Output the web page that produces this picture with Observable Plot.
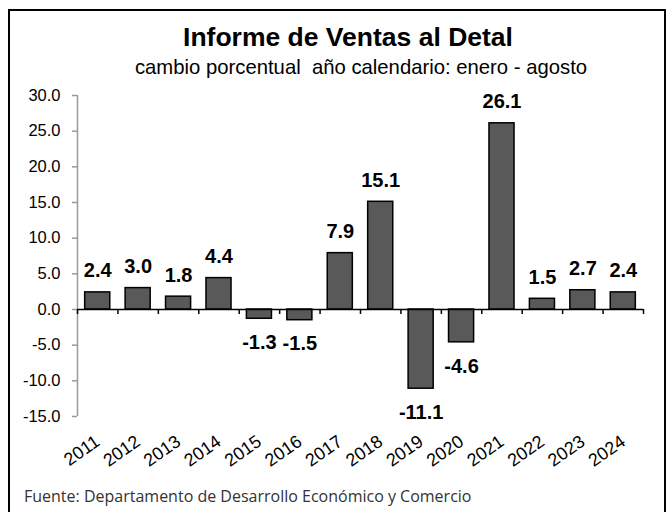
<!DOCTYPE html>
<html>
<head>
<meta charset="utf-8">
<script src="https://cdn.jsdelivr.net/npm/d3@7"></script>
<script src="https://cdn.jsdelivr.net/npm/@observablehq/plot@0.6"></script>
<style>
  html, body { margin: 0; padding: 0; background: #fff; }
  #wrap { position: relative; width: 671px; height: 512px; overflow: hidden; background: #fff; font-family: Arial, "Liberation Sans", sans-serif; }
  #frame { position: absolute; left: 8px; top: 9px; width: 658px; height: 540px; border: 2px solid #000; box-sizing: border-box; }
  #title { position: absolute; left: 0; width: 696px; top: 22px; text-align: center; font-size: 26.5px; font-weight: bold; color: #000; line-height: 30px; }
  #subtitle { position: absolute; left: 0; width: 722px; top: 56px; text-align: center; font-size: 20.3px; color: #000; line-height: 22px; white-space: pre; }
  #chart { position: absolute; left: 0; top: 80px; }
  #caption { position: absolute; left: 24px; top: 485px; font-family: "Open Sans", "Noto Sans", sans-serif; font-size: 16px; color: #333; white-space: nowrap; }
</style>
</head>
<body>
<div id="wrap">
  <div id="frame"></div>
  <div id="title">Informe de Ventas al Detal</div>
  <div id="subtitle">cambio porcentual  año calendario: enero - agosto</div>
  <div id="chart"></div>
  <div id="caption">Fuente: Departamento de Desarrollo Económico y Comercio</div>
</div>
<script>
const years = [2011, 2012, 2013, 2014, 2015, 2016, 2017, 2018, 2019, 2020, 2021, 2022, 2023, 2024];
const values = [2.4, 3.0, 1.8, 4.4, -1.3, -1.5, 7.9, 15.1, -11.1, -4.6, 26.1, 1.5, 2.7, 2.4];
const yTicks = [-15, -10, -5, 0, 5, 10, 15, 20, 25, 30];

const data = years.map((year, i) => ({year, value: values[i]}));
const xMin = years[0] - 0.5, xMax = years[years.length - 1] + 0.5;
const bounds = [xMin, ...years.map(y => y + 0.5)];
const fmt = v => v.toFixed(1);

const chart = Plot.plot({
  width: 671,
  height: 400,
  marginLeft: 77,
  marginRight: 28,
  marginTop: 15,
  marginBottom: 64,
  style: { fontFamily: "Arial, 'Liberation Sans', sans-serif", background: "transparent", color: "#000" },
  x: { type: "linear", domain: [xMin, xMax], label: null },
  y: { domain: [yTicks[0], yTicks[yTicks.length - 1]], label: null },
  marks: [
    Plot.ruleX([xMin], { y1: yTicks[0], y2: yTicks[yTicks.length - 1], stroke: "#9a9a9a", strokeWidth: 1.5 }),
    Plot.axisY({ ticks: yTicks, tickFormat: fmt, tickSize: 5, tickPadding: 12, stroke: "#9a9a9a", strokeWidth: 1.5, fontSize: 16.5, fill: "#000", label: null }),
    Plot.axisX({ ticks: years, tickFormat: d => String(d), tickSize: 0, tickPadding: 23, tickRotate: -35, fontSize: 18, fill: "#000", label: null }),
    Plot.rectY(data, { x1: d => d.year - 0.31, x2: d => d.year + 0.31, y1: 0, y2: "value", fill: "#595959", stroke: "#000", strokeWidth: 1.5 }),
    Plot.ruleY([0], { stroke: "#000", strokeWidth: 1.5 }),
    Plot.ruleX(bounds, { x: d => d, y1: 0, y2: 0, insetBottom: -5, stroke: "#000", strokeWidth: 1.5 }),
    Plot.text(data.filter(d => d.value >= 0), { x: "year", y: "value", text: d => fmt(d.value), dy: -15, lineAnchor: "bottom", fontWeight: "bold", fontSize: 20, fill: "#000" }),
    Plot.text(data.filter(d => d.value < 0), { x: "year", y: "value", text: d => fmt(d.value), dy: 16, lineAnchor: "top", fontWeight: "bold", fontSize: 20, fill: "#000" })
  ]
});
document.getElementById("chart").appendChild(chart);
</script>
</body>
</html>
